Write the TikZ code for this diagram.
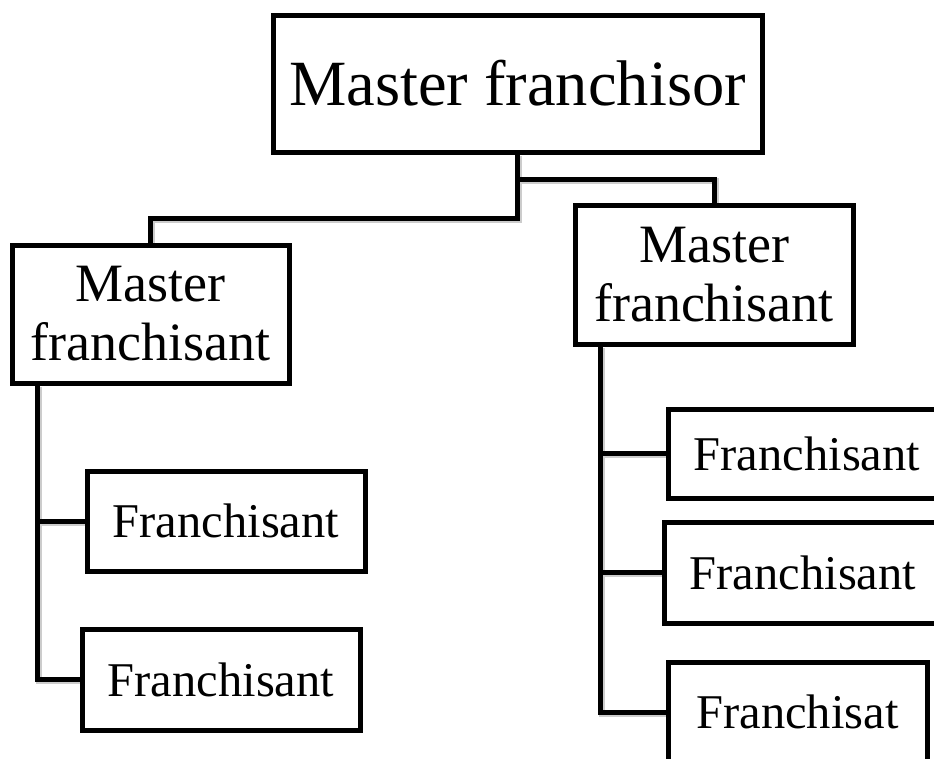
\documentclass[tikz,border=0pt]{standalone}
\usepackage{fontspec}
\setmainfont{Liberation Serif}
\usetikzlibrary{backgrounds}

\tikzset{
  box/.style={draw, line width=5pt, fill=white, inner sep=0pt, align=center},
  toplevel/.style={box, font=\fontsize{64.5}{64.5}\selectfont},
  midlevel/.style={box, font=\fontsize{54}{59}\selectfont},
  leaflevel/.style={box, font=\fontsize{48.5}{48.5}\selectfont},
  conn/.style={line width=5pt,
    preaction={draw=black!20, line width=6pt,
      transform canvas={xshift=1.6pt, yshift=-1.8pt}}}
}

\begin{document}
\begin{tikzpicture}[x=1pt, y=-1pt]
  \useasboundingbox (0,0) rectangle (934,758);
  \clip (0,0) rectangle (934,758);

  % boxes
  \node[toplevel, minimum width=489pt, minimum height=137pt] (top) at (517.5,83.5) {Master franchisor};
  \node[midlevel, minimum width=277pt, minimum height=138pt] (lm) at (150.5,314) {Master\\franchisant};
  \node[midlevel, minimum width=278pt, minimum height=139pt] (rm) at (714,274.5) {Master\\franchisant};

  \node[leaflevel, minimum width=278pt, minimum height=100pt] (lf1) at (226,521) {Franchisant};
  \node[leaflevel, minimum width=278pt, minimum height=101pt] (lf2) at (221,679.5) {Franchisant};

  \node[leaflevel, minimum width=278pt, minimum height=89pt] (rf1) at (807,453.5) {Franchisant};
  \node[leaflevel, minimum width=278pt, minimum height=101pt] (rf2) at (803,572.5) {Franchisant};
  \node[leaflevel, minimum width=259pt, minimum height=100pt] (rf3) at (797.5,712) {Franchisat};

  % junction points
  \path (top.south) ++(0,25) coordinate (jr);
  \path (top.south) ++(0,64) coordinate (jl);
  \path (lm.south west) ++(28,0) coordinate (lt);
  \path (rm.south west) ++(28,0) coordinate (rt);

  % connectors: one path, so every shadow lies under every line
  \begin{scope}[on background layer]
    \draw[conn]
      (top.south) -- (jr) -| (rm.north)
      (top.south) -- (jl) -| (lm.north)
      (lt) |- (lf2.west)
      (lt) |- (lf1.west)
      (rt) |- (rf3.west)
      (rt) |- (rf2.west)
      (rt) |- (rf1.west);
  \end{scope}
\end{tikzpicture}
\end{document}
